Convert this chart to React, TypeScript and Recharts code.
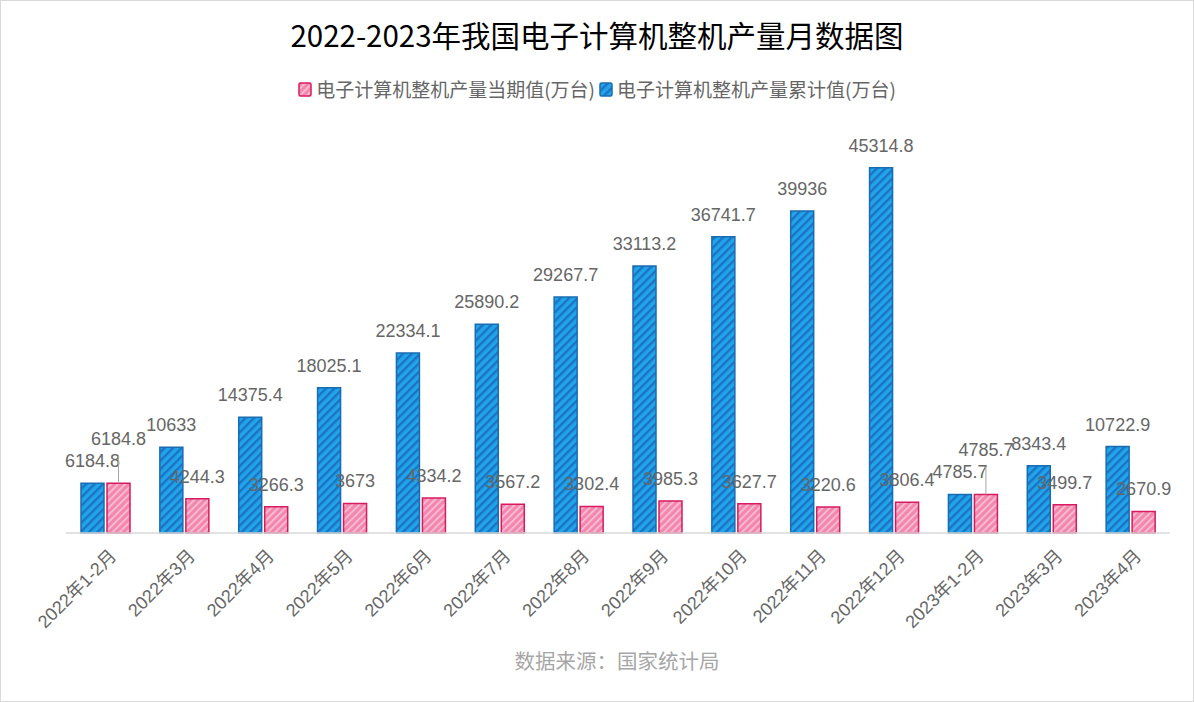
import React from "react";
import { BarChart, Bar, XAxis, YAxis, LabelList } from "recharts";

const months = [
  "2022年1-2月",
  "2022年3月",
  "2022年4月",
  "2022年5月",
  "2022年6月",
  "2022年7月",
  "2022年8月",
  "2022年9月",
  "2022年10月",
  "2022年11月",
  "2022年12月",
  "2023年1-2月",
  "2023年3月",
  "2023年4月",
];

// 累计值 (万台)
const cumulative = [
  6184.8, 10633, 14375.4, 18025.1, 22334.1, 25890.2, 29267.7, 33113.2,
  36741.7, 39936, 45314.8, 4785.7, 8343.4, 10722.9,
];

// 当期值 (万台)
const current = [
  6184.8, 4244.3, 3266.3, 3673, 4334.2, 3567.2, 3302.4, 3985.3, 3627.7,
  3220.6, 3806.4, 4785.7, 3499.7, 2670.9,
];

const currentName = "电子计算机整机产量当期值(万台)";
const cumulativeName = "电子计算机整机产量累计值(万台)";

const data = months.map((m, i) => ({
  month: m,
  cumulative: cumulative[i],
  current: current[i],
}));

const LABEL_FONT = "'Liberation Sans', 'Noto Sans CJK SC', sans-serif";
const CJK_FONT = "'Noto Sans CJK SC', 'Liberation Sans', sans-serif";
const GREY = "#666666";

function Patterns({ prefix }: { prefix: string }) {
  return (
    <defs>
      <pattern
        id={`${prefix}-blue`}
        width="6"
        height="6"
        patternUnits="userSpaceOnUse"
        patternTransform="rotate(45)"
      >
        <rect width="6" height="6" fill="#22a3ea" />
        <rect width="2.4" height="6" fill="#1a74c4" />
      </pattern>
      <pattern
        id={`${prefix}-pink`}
        width="5"
        height="5"
        patternUnits="userSpaceOnUse"
        patternTransform="rotate(45)"
      >
        <rect width="5" height="5" fill="#f286ac" />
        <rect width="1.8" height="5" fill="#f9bed3" />
      </pattern>
    </defs>
  );
}

function XTick(props: any) {
  const { x, y, payload } = props;
  return (
    <text
      transform={`translate(${x + 12},${y + 16}) rotate(-45)`}
      textAnchor="end"
      fontSize={18}
      fill={GREY}
      fontFamily={LABEL_FONT}
    >
      {payload.value}
    </text>
  );
}

function blueLabel(props: any) {
  const { x, y, width, value } = props;
  return (
    <text
      x={x + width / 2}
      y={y - 16}
      textAnchor="middle"
      fontSize={18}
      fill={GREY}
      fontFamily={LABEL_FONT}
    >
      {value}
    </text>
  );
}

function pinkLabel(props: any) {
  const { x, y, width, value, index } = props;
  const cx = x + width / 2;
  // when the two values coincide Excel lifts the label and adds a leader line
  const lifted = current[index] === cumulative[index];
  if (lifted) {
    return (
      <g>
        <line x1={cx} x2={cx} y1={y - 28} y2={y} stroke="#a6a6a6" strokeWidth={1} />
        <text
          x={cx}
          y={y - 38}
          textAnchor="middle"
          fontSize={18}
          fill={GREY}
          fontFamily={LABEL_FONT}
        >
          {value}
        </text>
      </g>
    );
  }
  return (
    <text
      x={cx}
      y={y - 16}
      textAnchor="middle"
      fontSize={18}
      fill={GREY}
      fontFamily={LABEL_FONT}
    >
      {value}
    </text>
  );
}

function LegendIcon({ kind }: { kind: "blue" | "pink" }) {
  const stroke = kind === "blue" ? "#1a6cb0" : "#d81b60";
  return (
    <svg width={14} height={15} style={{ display: "block" }}>
      <Patterns prefix={`lg-${kind}`} />
      <rect
        x={1}
        y={1}
        width={12}
        height={13}
        rx={1.5}
        fill={`url(#lg-${kind}-${kind})`}
        stroke={stroke}
        strokeWidth={1.5}
      />
    </svg>
  );
}

export default function App() {
  return (
    <div
      style={{
        position: "absolute",
        left: 0,
        top: 0,
        width: 1194,
        height: 702,
        boxSizing: "border-box",
        border: "1px solid #d9d9d9",
        background: "#fff",
        overflow: "hidden",
      }}
    >
      <div
        style={{
          position: "absolute",
          top: 12,
          left: 0,
          width: "100%",
          textAlign: "center",
          fontFamily: CJK_FONT,
          fontSize: 29.5,
          color: "#000",
          lineHeight: "42px",
        }}
      >
        2022-2023年我国电子计算机整机产量月数据图
      </div>
      <div
        style={{
          position: "absolute",
          top: 74,
          left: 0,
          width: "100%",
          display: "flex",
          justifyContent: "center",
          alignItems: "center",
          gap: 4,
          fontFamily: CJK_FONT,
          fontSize: 19,
          color: GREY,
          lineHeight: "28px",
        }}
      >
        <LegendIcon kind="pink" />
        <span>{currentName}</span>
        <LegendIcon kind="blue" />
        <span>{cumulativeName}</span>
      </div>
      <div style={{ position: "absolute", left: -1, top: -1 }}>
        <BarChart
          width={1194}
          height={702}
          data={data}
          margin={{ top: 130, right: 24, bottom: 49, left: 66 }}
          barSize={23}
          barGap={3}
        >
          <Patterns prefix="bar" />
          <YAxis hide domain={[0, 50000]} />
          <XAxis
            dataKey="month"
            height={120}
            interval={0}
            tickLine={false}
            axisLine={{ stroke: "#d9d9d9", strokeWidth: 1.5 }}
            tick={<XTick />}
          />
          <Bar
            dataKey="cumulative"
            name={cumulativeName}
            fill="url(#bar-blue)"
            stroke="#1a6cb0"
            strokeWidth={1.5}
            isAnimationActive={false}
          >
            <LabelList dataKey="cumulative" content={blueLabel} />
          </Bar>
          <Bar
            dataKey="current"
            name={currentName}
            fill="url(#bar-pink)"
            stroke="#d81b60"
            strokeWidth={1.5}
            isAnimationActive={false}
          >
            <LabelList dataKey="current" content={pinkLabel} />
          </Bar>
        </BarChart>
      </div>
      <div
        style={{
          position: "absolute",
          top: 644,
          left: 20,
          width: "100%",
          textAlign: "center",
          fontFamily: CJK_FONT,
          fontSize: 20.5,
          color: "#a6a6a6",
          lineHeight: "30px",
        }}
      >
        数据来源：国家统计局
      </div>
    </div>
  );
}
